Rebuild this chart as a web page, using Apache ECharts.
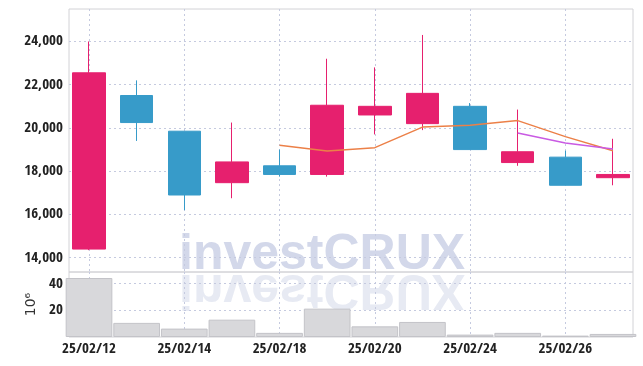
<!DOCTYPE html>
<html>
<head>
<meta charset="utf-8">
<script src="https://cdn.jsdelivr.net/npm/echarts@6/dist/echarts.min.js"></script>
<style>
html,body{margin:0;padding:0;background:#fff;}
#chart{width:643px;height:366px;}
</style>
</head>
<body>
<div id="chart"></div>
<script>
// ---- data ----
const dates = ['25/02/12','25/02/13','25/02/14','25/02/17','25/02/18','25/02/19','25/02/20','25/02/21','25/02/24','25/02/25','25/02/26','25/02/27'];
const openP  = [14400, 21500, 19850, 17470, 18250, 17850, 20600, 20200, 21000, 18400, 18650, 17700];
const closeP = [22550, 20250, 16900, 18430, 17850, 21050, 21000, 21600, 19000, 18900, 17350, 17850];
const lowP   = [14350, 19400, 16200, 16750, 17750, 17750, 19700, 19900, 19000, 18250, 17350, 17350];
const highP  = [24000, 22200, 19850, 20250, 19000, 23200, 22800, 24300, 21150, 20850, 18950, 19500];
const ma5    = [null, null, null, null, 19200, 18940, 19090, 20040, 20130, 20340, 19600, 18950];
const ma10   = [null, null, null, null, null, null, null, null, null, 19770, 19300, 19030];
const volume = [44.3, 10.6, 6.3, 13.0, 3.1, 21.3, 8.0, 11.3, 1.8, 3.1, 1.05, 2.3]; // x 10^6
const priceTicks = [14000, 16000, 18000, 20000, 22000, 24000];
const volTicks = [20, 40];
const dateTickIdx = [0, 2, 4, 6, 8, 10];
const volUnit = '10\u2076';

// ---- build ----
const candleData = dates.map((d, i) => [i, openP[i], closeP[i], lowP[i], highP[i]]);
const toPairs = arr => arr.map((v, i) => v == null ? null : [i, v]).filter(p => p);
const volData = volume.map((v, i) => [i, v]);

const PINK = '#e6206e', BLUE = '#379bc9';
const labelFont = '"Open Sans Condensed", "Roboto Condensed", sans-serif';
const dotted = { show: true, lineStyle: { color: '#c5cadf', type: [2, 3], width: 1 } };
const tickLabel = { fontFamily: labelFont, fontWeight: 'bold', fontSize: 15, color: '#222' };

const chart = echarts.init(document.getElementById('chart'), null, { renderer: 'canvas' });
chart.setOption({
  animation: false,
  backgroundColor: '#fff',
  grid: [
    { left: 69, right: 10, top: 9, height: 263, show: true, borderColor: '#d2d2d6', borderWidth: 1 },
    { left: 69, right: 10, top: 272, height: 65, show: true, borderColor: '#d2d2d6', borderWidth: 1 }
  ],
  graphic: [
    { type: 'text', x: 179, y: 272, scaleY: -1, z: -10, silent: true,
      style: { text: 'investCRUX', x: 0, y: -17, textVerticalAlign: 'middle', fill: '#e7eaf3',
               font: 'bold 50px "Liberation Sans", Arial, sans-serif' } },
    { type: 'text', x: 179, y: 272, z: -10, silent: true,
      style: { text: 'investCRUX', x: 0, y: -17, textVerticalAlign: 'middle', fill: '#d3d8ea',
               font: 'bold 50px "Liberation Sans", Arial, sans-serif' } }
  ],
  xAxis: [
    { type: 'value', gridIndex: 0, min: -0.42, max: 11.42,
      axisLine: { show: false }, axisTick: { show: false, customValues: dateTickIdx },
      axisLabel: { show: false, customValues: dateTickIdx }, splitLine: dotted },
    { type: 'value', gridIndex: 1, min: -0.42, max: 11.42,
      axisLine: { show: false }, axisTick: { show: false, customValues: dateTickIdx },
      axisLabel: Object.assign({ show: true, customValues: dateTickIdx, margin: 5,
        formatter: v => dates[Math.round(v)] || '' }, tickLabel),
      splitLine: dotted }
  ],
  yAxis: [
    { type: 'value', gridIndex: 0, min: 13340, max: 25500,
      axisLine: { show: false }, axisTick: { show: false, customValues: priceTicks },
      axisLabel: Object.assign({ customValues: priceTicks, margin: 6,
        formatter: v => Number(v).toLocaleString('en-US') }, tickLabel),
      splitLine: dotted },
    { type: 'value', gridIndex: 1, min: 0, max: 48.8,
      name: volUnit, nameLocation: 'middle', nameRotate: 90, nameGap: 29,
      nameTextStyle: { fontFamily: '"DejaVu Sans", sans-serif', fontSize: 14, color: '#333' },
      axisLine: { show: false }, axisTick: { show: false, customValues: volTicks },
      axisLabel: Object.assign({ customValues: volTicks, margin: 6 }, tickLabel),
      splitLine: dotted }
  ],
  series: [
    { type: 'bar', xAxisIndex: 1, yAxisIndex: 1, data: volData, barWidth: '98%',
      itemStyle: { color: '#d8d8db', borderColor: '#c3c3c8', borderWidth: 1 } },
    { type: 'candlestick', xAxisIndex: 0, yAxisIndex: 0, data: candleData, barWidth: '70%',
      itemStyle: { color: PINK, color0: BLUE, borderColor: PINK, borderColor0: BLUE, borderWidth: 1 } },
    { type: 'line', xAxisIndex: 0, yAxisIndex: 0, data: toPairs(ma5), showSymbol: false,
      lineStyle: { color: '#ec8048', width: 1.5 } },
    { type: 'line', xAxisIndex: 0, yAxisIndex: 0, data: toPairs(ma10), showSymbol: false,
      lineStyle: { color: '#c95ae3', width: 1.5 } }
  ]
});
</script>
</body>
</html>
